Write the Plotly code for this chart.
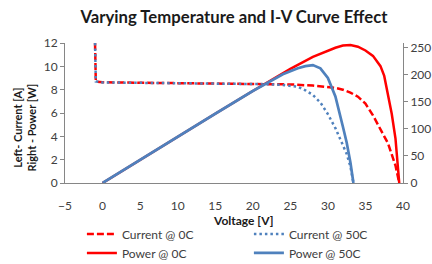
import plotly.graph_objects as go

# ---- data ----
v_cur_0c = [-1, -0.9, 0, 5, 10, 15, 20, 22, 25, 28, 30, 31, 32, 33, 34, 35, 36, 37, 38, 39, 39.5]
i_cur_0c = [12, 8.7, 8.63, 8.6, 8.57, 8.54, 8.5, 8.49, 8.45, 8.35, 8.25, 8.15, 8.0, 7.75, 7.4, 6.8, 5.8, 4.6, 3.4, 1.5, 0]

v_cur_50c = [-1, -0.9, 0, 5, 10, 15, 20, 22, 24, 26, 27, 28, 29, 30, 31, 32, 32.5, 33, 33.4]
i_cur_50c = [12, 8.7, 8.62, 8.6, 8.57, 8.54, 8.5, 8.47, 8.4, 8.25, 7.95, 7.55, 6.9, 5.9, 4.7, 3.3, 2.5, 1.4, 0]

v_pow_0c = [0, 5, 10, 15, 20, 22, 25, 28, 30, 31, 32, 33, 34, 35, 36, 37, 37.5, 38, 38.5, 39, 39.5]
p_pow_0c = [0, 43, 86, 128, 170, 187, 211, 233, 245, 250, 254, 255, 252, 245, 235, 216, 198, 165, 128, 82, 0]

v_pow_50c = [0, 5, 10, 15, 20, 22, 24, 26, 27, 28, 29, 30, 31, 32, 32.5, 33, 33.4]
p_pow_50c = [0, 43, 86, 128, 170, 186, 201, 212, 216, 218, 212, 194, 160, 104, 75, 38, 0]

x_ticks = [-5, 0, 5, 10, 15, 20, 25, 30, 35, 40]
left_ticks = [0, 2, 4, 6, 8, 10, 12]
right_ticks = [0, 50, 100, 150, 200, 250]

RED = "#FF0000"
BLUE = "#4F81BD"
AXIS = "#868686"
TXT = "#404040"
FONT = "Lato"

fig = go.Figure()
fig.add_trace(go.Scatter(x=v_cur_0c, y=i_cur_0c, mode="lines", name="Current @ 0C",
                         line=dict(color=RED, width=2.5, dash="7px,3px")))
fig.add_trace(go.Scatter(x=v_cur_50c, y=i_cur_50c, mode="lines", name="Current @ 50C",
                         line=dict(color=BLUE, width=2.5, dash="2.5px,3px")))
fig.add_trace(go.Scatter(x=v_pow_0c, y=p_pow_0c, mode="lines", name="Power @ 0C", yaxis="y2",
                         line=dict(color=RED, width=2.5)))
fig.add_trace(go.Scatter(x=v_pow_50c, y=p_pow_50c, mode="lines", name="Power @ 50C", yaxis="y2",
                         line=dict(color=BLUE, width=2.7)))

fig.update_layout(
    width=432, height=264,
    margin=dict(l=65, r=29, t=43, b=81, autoexpand=False),
    paper_bgcolor="white", plot_bgcolor="white",
    font=dict(family=FONT, size=12, color=TXT),
    title=dict(text="<b>Varying Temperature and I-V Curve Effect</b>",
               x=0.5, xref="paper", xanchor="center",
               y=1 - 17 / 264, yanchor="middle",
               font=dict(family=FONT, size=16.7, color="#1a1a1a")),
    xaxis=dict(range=[-5, 40], tickvals=x_ticks, showgrid=False, zeroline=False,
               showline=True, linecolor=AXIS, linewidth=1, ticks="",
               ticklabelstandoff=12, tickfont=dict(size=12, color=TXT)),
    yaxis=dict(range=[0, 12], tickvals=left_ticks, showgrid=False, zeroline=False,
               showline=True, linecolor=AXIS, linewidth=1, ticks="outside", ticklen=4,
               tickcolor=AXIS, tickfont=dict(size=12, color=TXT)),
    yaxis2=dict(range=[0, 258.8], tickvals=right_ticks, overlaying="y", side="right",
                showgrid=False, zeroline=False, showline=True, linecolor=AXIS, linewidth=1,
                ticks="outside", ticklen=4, tickcolor=AXIS, tickfont=dict(size=12, color=TXT)),
    showlegend=True,
    legend=dict(orientation="h", x=0.05, xanchor="left", y=-0.26, yanchor="top",
                entrywidth=122, entrywidthmode="pixels",
                font=dict(size=12, color=TXT), bgcolor="rgba(0,0,0,0)", itemwidth=30),
)

fig.add_annotation(text="<b>Voltage [V]</b>", xref="paper", yref="paper",
                   x=(243 - 65) / 338, y=(183 - 220) / 140, showarrow=False,
                   xanchor="center", yanchor="middle", font=dict(size=12, color="#1a1a1a"))
fig.add_annotation(text="<b>Left- Current [A]<br>Right - Power [W]</b>", xref="paper", yref="paper",
                   x=(23.5 - 65) / 338, y=(183 - 128) / 140, showarrow=False, textangle=-90,
                   xanchor="center", yanchor="middle", font=dict(size=11, color="#1a1a1a"))

fig.write_html("out.html", config={"displayModeBar": False},
               post_script="document.body.style.margin='0';")
